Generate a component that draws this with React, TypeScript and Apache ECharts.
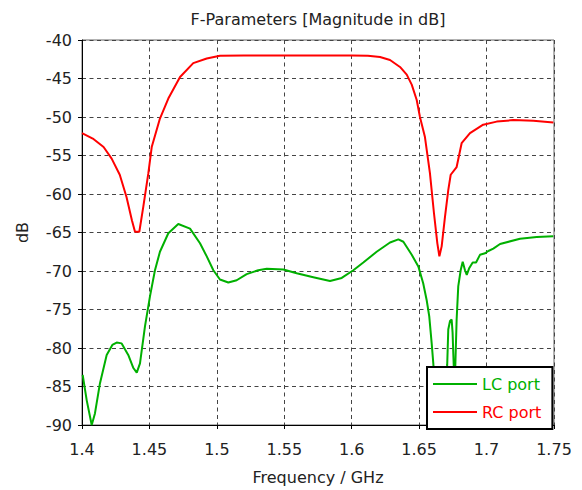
import React, { useEffect, useRef } from "react";
import * as echarts from "echarts";

const xTicks = [1.4, 1.45, 1.5, 1.55, 1.6, 1.65, 1.7, 1.75];
const yTicks = [-90, -85, -80, -75, -70, -65, -60, -55, -50, -45, -40];

const rcFreq = [
  1.4, 1.408, 1.416, 1.422, 1.428, 1.433, 1.437, 1.4393, 1.4425, 1.4455, 1.4492,
  1.4517, 1.4578, 1.464, 1.4727, 1.4825, 1.4925, 1.5023, 1.52, 1.56, 1.6, 1.612,
  1.621, 1.6284, 1.6358, 1.6408, 1.6445, 1.6482, 1.6506, 1.6543, 1.658, 1.661,
  1.6635, 1.665, 1.6667, 1.6692, 1.6716, 1.6734, 1.6778, 1.6815, 1.6877, 1.6975,
  1.7075, 1.7198, 1.7347, 1.7495,
];
const rcDb = [
  -52.1, -52.8, -53.9, -55.4, -57.5, -60.4, -63.4, -64.9, -64.9, -61.6, -57.3,
  -53.9, -50.2, -47.6, -44.8, -43.0, -42.4, -42.05, -42.0, -42.0, -42.0, -42.05,
  -42.2, -42.6, -43.5, -44.5, -45.8, -47.8, -50.0, -52.6, -57.3, -62.5,
  -66.4, -68.1, -66.8, -62.9, -59.5, -57.5, -56.5, -53.4, -52.1, -51.0,
  -50.6, -50.4, -50.5, -50.7,
];

const lcFreq = [
  1.4005, 1.4035, 1.4072, 1.4096, 1.4133, 1.4183, 1.4225, 1.4257, 1.4294, 1.4343,
  1.4381, 1.4406, 1.443, 1.4467, 1.4504, 1.4541, 1.4578, 1.464, 1.4714, 1.4801,
  1.4875, 1.4925, 1.4974, 1.5023, 1.5085, 1.5147, 1.5221, 1.5307, 1.537, 1.5493,
  1.5592, 1.5715, 1.5839, 1.5926, 1.6012, 1.6086, 1.6185, 1.6284, 1.6346, 1.6383,
  1.6445, 1.6494, 1.653, 1.6556, 1.6575, 1.6593, 1.6605, 1.662, 1.6645, 1.667,
  1.6695, 1.6708, 1.6716, 1.6729, 1.6741, 1.6748, 1.6753, 1.6758, 1.6768, 1.6778,
  1.679, 1.6808, 1.6823, 1.684, 1.6853, 1.6872, 1.6897, 1.6922, 1.6951, 1.6989,
  1.7013, 1.705, 1.71, 1.7248, 1.7372, 1.7495,
];
const lcDb = [
  -83.5, -86.8, -90.0, -88.5, -84.6, -80.9, -79.6, -79.3, -79.4, -80.9,
  -82.6, -83.2, -82.0, -77.2, -73.3, -69.9, -67.5, -65.1, -63.9, -64.5,
  -66.4, -68.1, -69.9, -71.1, -71.5, -71.2, -70.4, -69.9, -69.7, -69.8,
  -70.3, -70.8, -71.3, -70.9, -69.9, -68.9, -67.5, -66.3, -65.9, -66.2,
  -67.9, -69.4, -71.6, -73.8, -75.9, -79.4, -82.0, -86.0, -89.0, -88.0,
  -85.0, -82.2, -77.6, -76.5, -76.3, -78.0, -80.6, -83.0, -82.5, -76.3,
  -72.0, -69.9, -68.8, -69.9, -70.5, -69.6, -68.9, -68.9, -67.9, -67.7,
  -67.4, -67.1, -66.5, -65.8, -65.6, -65.5,
];

const seriesNames = ["LC port", "RC port"];
const seriesColors = ["#00b000", "#ff0000"];
const FONT = "DejaVu Sans";

export default function App() {
  const ref = useRef<HTMLDivElement>(null);
  useEffect(() => {
    if (!ref.current) return;
    const chart = echarts.init(ref.current, undefined, { renderer: "svg" });
    const lc = lcFreq.map((f, i) => [f, lcDb[i]]);
    const rc = rcFreq.map((f, i) => [f, rcDb[i]]);
    chart.setOption({
      animation: false,
      backgroundColor: "#ffffff",
      textStyle: { fontFamily: FONT },
      graphic: [
        {
          type: "text",
          x: 318,
          y: 19,
          style: {
            text: "F-Parameters [Magnitude in dB]",
            fontFamily: FONT,
            fontSize: 16,
            fill: "#222",
            textAlign: "center",
            textVerticalAlign: "middle",
          },
        },
      ],
      grid: {
        left: 82,
        right: 28,
        top: 40,
        bottom: 64,
        show: true,
        borderColor: "#666",
        borderWidth: 1,
      },
      legend: {
        left: 427,
        top: 367,
        orient: "vertical",
        icon: "rect",
        padding: [9, 11, 9, 6],
        itemGap: 12,
        itemWidth: 44,
        itemHeight: 2,
        backgroundColor: "#fff",
        borderColor: "#000",
        borderWidth: 2,
        borderRadius: 0,
        z: 10,
        textStyle: { fontFamily: FONT, fontSize: 16 },
        data: seriesNames.map((n, i) => ({
          name: n,
          icon: "rect",
          itemStyle: { color: seriesColors[i] },
          textStyle: { color: seriesColors[i], fontFamily: FONT, fontSize: 16 },
        })),
      },
      xAxis: {
        type: "value",
        min: xTicks[0],
        max: xTicks[xTicks.length - 1],
        interval: 0.05,
        name: "Frequency / GHz",
        nameLocation: "middle",
        nameGap: 44,
        nameTextStyle: { fontFamily: FONT, fontSize: 16, color: "#222" },
        axisLine: { show: true, lineStyle: { color: "#000", width: 1 } },
        axisTick: { show: true, length: 4, lineStyle: { color: "#000" } },
        axisLabel: {
          fontFamily: FONT,
          fontSize: 16,
          color: "#222",
          margin: 16,
          formatter: (v: number) => String(Math.round(v * 100) / 100),
        },
        splitLine: {
          show: true,
          lineStyle: { type: [4, 3.5], color: "#444", width: 1 },
        },
      },
      yAxis: {
        type: "value",
        min: yTicks[0],
        max: yTicks[yTicks.length - 1],
        interval: 5,
        name: "dB",
        nameLocation: "middle",
        nameGap: 52,
        nameRotate: 90,
        nameTextStyle: { fontFamily: FONT, fontSize: 16, color: "#222" },
        axisLine: { show: true, lineStyle: { color: "#000", width: 1 } },
        axisTick: { show: true, length: 4, lineStyle: { color: "#000" } },
        axisLabel: { fontFamily: FONT, fontSize: 16, color: "#222", margin: 10 },
        splitLine: {
          show: true,
          lineStyle: { type: [4, 3.5], color: "#444", width: 1 },
        },
      },
      series: [
        {
          name: seriesNames[0],
          type: "line",
          data: lc,
          symbol: "none",
          color: seriesColors[0],
          lineStyle: { color: seriesColors[0], width: 2 },
          clip: true,
        },
        {
          name: seriesNames[1],
          type: "line",
          data: rc,
          symbol: "none",
          color: seriesColors[1],
          lineStyle: { color: seriesColors[1], width: 2 },
          clip: true,
        },
      ],
    });
    return () => chart.dispose();
  }, []);
  return (
    <div
      ref={ref}
      style={{ position: "fixed", left: 0, top: 0, width: 582, height: 490 }}
    />
  );
}
